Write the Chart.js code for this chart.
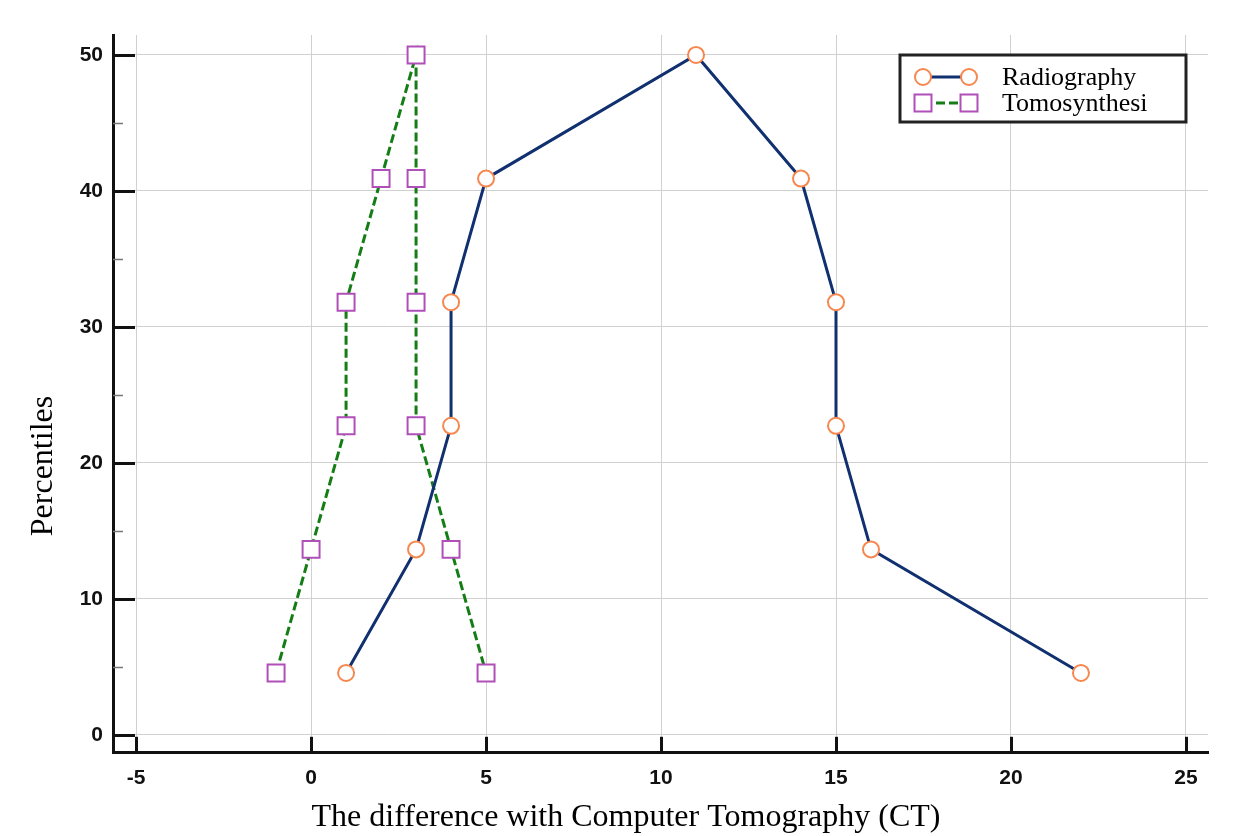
<!DOCTYPE html>
<html>
<head>
<meta charset="utf-8">
<script src="https://cdn.jsdelivr.net/npm/chart.js@4.4.1/dist/chart.umd.min.js"></script>
<style>
html,body{margin:0;padding:0;background:#fff;}
#wrap{width:1240px;height:836px;position:relative;}
</style>
</head>
<body>
<div id="wrap"><canvas id="c" width="1240" height="836"></canvas></div>
<script>
// ---- data ----
const percentiles = [4.55, 13.64, 22.73, 31.82, 40.91, 50, 40.91, 31.82, 22.73, 13.64, 4.55];
const radiographyDiff = [1, 3, 4, 4, 5, 11, 14, 15, 15, 16, 22];
const tomosynthesisDiff = [-1, 0, 1, 1, 2, 3, 3, 3, 3, 4, 5];
const seriesLabels = ['Radiography', 'Tomosynthesi'];
const xTicks = [-5, 0, 5, 10, 15, 20, 25];
const yTicks = [0, 10, 20, 30, 40, 50];
const yMinorTicks = [5, 15, 25, 35, 45];
const xTitle = 'The difference with Computer Tomography (CT)';
const yTitle = 'Percentiles';

const toPoints = (xs, ys) => xs.map((x, i) => ({x: x, y: ys[i]}));

const NAVY = '#10306f';
const ORANGE = '#f6874f';
const GREEN = '#157d15';
const PURPLE = '#b04fb8';

const innerTicks = {
  id: 'innerTicks',
  beforeDatasetsDraw(chart) {
    const ctx = chart.ctx;
    const xs = chart.scales.x, ys = chart.scales.y;
    const a = chart.chartArea;
    ctx.save();
    ctx.strokeStyle = '#111';
    ctx.lineWidth = 3;
    yTicks.forEach(v => {
      const p = Math.round(ys.getPixelForValue(v)) + 0.5;
      ctx.beginPath(); ctx.moveTo(a.left, p); ctx.lineTo(a.left + 22, p); ctx.stroke();
    });
    xTicks.forEach(v => {
      const p = Math.round(xs.getPixelForValue(v)) + 0.5;
      ctx.beginPath(); ctx.moveTo(p, a.bottom); ctx.lineTo(p, a.bottom - 16); ctx.stroke();
    });
    ctx.strokeStyle = '#777';
    ctx.lineWidth = 1.5;
    yMinorTicks.forEach(v => {
      const p = Math.round(ys.getPixelForValue(v)) + 0.5;
      ctx.beginPath(); ctx.moveTo(a.left, p); ctx.lineTo(a.left + 10, p); ctx.stroke();
    });
    ctx.restore();
  },
  afterDraw(chart) {
    const ctx = chart.ctx;
    ctx.save();
    // y title
    ctx.translate(44, 466);
    ctx.rotate(-Math.PI / 2);
    ctx.fillStyle = '#000';
    ctx.font = '32px "Liberation Serif", "Times New Roman", serif';
    ctx.textAlign = 'center';
    ctx.textBaseline = 'middle';
    ctx.fillText(yTitle, 0, 0);
    ctx.restore();

    // legend box
    ctx.save();
    const bx = 900, by = 55, bw = 286, bh = 67;
    ctx.fillStyle = '#fff';
    ctx.fillRect(bx, by, bw, bh);
    ctx.strokeStyle = '#222';
    ctx.lineWidth = 3;
    ctx.strokeRect(bx, by, bw, bh);
    const rows = [77, 103];
    chart.data.datasets.forEach((ds, i) => {
      const y = rows[i];
      ctx.save();
      ctx.strokeStyle = ds.borderColor;
      ctx.lineWidth = ds.borderWidth;
      ctx.setLineDash(ds.borderDash || []);
      ctx.beginPath(); ctx.moveTo(923, y); ctx.lineTo(969, y); ctx.stroke();
      ctx.restore();
      [923, 969].forEach(x => {
        ctx.fillStyle = ds.pointBackgroundColor;
        ctx.strokeStyle = ds.pointBorderColor;
        ctx.lineWidth = ds.pointBorderWidth;
        ctx.beginPath();
        if (ds.pointStyle === 'circle') {
          ctx.arc(x, y, ds.pointRadius, 0, Math.PI * 2);
        } else {
          const s = ds.pointRadius * Math.SQRT1_2;
          ctx.rect(x - s, y - s, 2 * s, 2 * s);
        }
        ctx.fill(); ctx.stroke();
      });
      ctx.fillStyle = '#000';
      ctx.font = '26px "Liberation Serif", "Times New Roman", serif';
      ctx.textAlign = 'left';
      ctx.textBaseline = 'middle';
      ctx.fillText(ds.label, 1002, y + 1);
    });
    ctx.restore();
  }
};

new Chart(document.getElementById('c'), {
  type: 'scatter',
  data: {
    datasets: [
      {
        label: seriesLabels[0],
        data: toPoints(radiographyDiff, percentiles),
        showLine: true,
        borderColor: NAVY,
        borderWidth: 3,
        pointStyle: 'circle',
        pointRadius: 8,
        pointHoverRadius: 8,
        pointBorderWidth: 2,
        pointBorderColor: ORANGE,
        pointBackgroundColor: '#fff',
        tension: 0
      },
      {
        label: seriesLabels[1],
        data: toPoints(tomosynthesisDiff, percentiles),
        showLine: true,
        borderColor: GREEN,
        borderWidth: 3,
        borderDash: [9, 4],
        pointStyle: 'rect',
        pointRadius: 12,
        pointHoverRadius: 12,
        pointBorderWidth: 2,
        pointBorderColor: PURPLE,
        pointBackgroundColor: '#fff',
        tension: 0
      }
    ]
  },
  options: {
    responsive: false,
    animation: false,
    events: [],
    layout: {padding: {left: 44, right: 32, top: 35, bottom: 0}},
    plugins: {
      legend: {display: false},
      tooltip: {enabled: false},
      title: {
        display: true,
        position: 'bottom',
        text: xTitle,
        color: '#000',
        font: {family: '"Liberation Serif", "Times New Roman", serif', size: 32, weight: 'normal', lineHeight: 1.1},
        padding: {top: 11, bottom: 1}
      }
    },
    scales: {
      x: {
        type: 'linear',
        min: -5.66,
        max: 25.63,
        afterBuildTicks: s => { s.ticks = xTicks.map(v => ({value: v})); },
        afterFit: s => { s.height = 36; },
        grid: {color: '#d0d0d0', lineWidth: 1, drawTicks: false},
        border: {display: true, color: '#111', width: 3},
        ticks: {
          color: '#111',
          padding: 13,
          maxRotation: 0,
          font: {family: '"Liberation Sans", Arial, sans-serif', size: 21, weight: 'bold'}
        }
      },
      y: {
        type: 'linear',
        min: -1.32,
        max: 51.47,
        afterBuildTicks: s => { s.ticks = yTicks.map(v => ({value: v})); },
        afterFit: s => { s.width = 69; },
        grid: {color: '#d0d0d0', lineWidth: 1, drawTicks: false},
        border: {display: true, color: '#111', width: 3},
        ticks: {
          color: '#111',
          padding: 10,
          font: {family: '"Liberation Sans", Arial, sans-serif', size: 21, weight: 'bold'}
        }
      }
    }
  },
  plugins: [innerTicks]
});
</script>
</body>
</html>
